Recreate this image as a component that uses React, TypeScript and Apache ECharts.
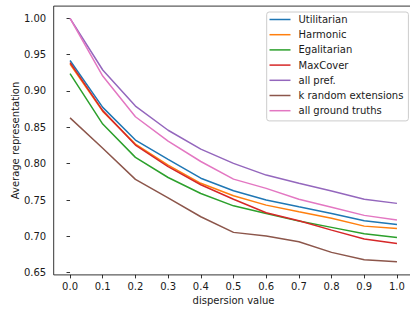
import React, { useEffect, useRef } from "react";
import * as echarts from "echarts";

const xValues = [0.0, 0.1, 0.2, 0.3, 0.4, 0.5, 0.6, 0.7, 0.8, 0.9, 1.0];
const xTicks = [0.0, 0.1, 0.2, 0.3, 0.4, 0.5, 0.6, 0.7, 0.8, 0.9, 1.0];
const yTicks = [0.65, 0.7, 0.75, 0.8, 0.85, 0.9, 0.95, 1.0];

const seriesNames = [
  "Utilitarian",
  "Harmonic",
  "Egalitarian",
  "MaxCover",
  "all pref.",
  "k random extensions",
  "all ground truths",
];
const seriesColors = ["#1f77b4", "#ff7f0e", "#2ca02c", "#d62728", "#9467bd", "#8c564b", "#e377c2"];

const utilitarian = [0.942, 0.8775, 0.8325, 0.806, 0.780, 0.7628, 0.750, 0.7407, 0.7316, 0.7214, 0.7165];
const harmonic = [0.937, 0.872, 0.827, 0.798, 0.773, 0.7559, 0.743, 0.7338, 0.7248, 0.7141, 0.711];
const egalitarian = [0.924, 0.8545, 0.8087, 0.781, 0.759, 0.742, 0.7316, 0.721, 0.7124, 0.7036, 0.6986];
const maxCover = [0.939, 0.873, 0.8256, 0.796, 0.771, 0.751, 0.7325, 0.7214, 0.7086, 0.6963, 0.6903];
const allPref = [1.0, 0.9289, 0.8793, 0.846, 0.820, 0.8004, 0.7843, 0.773, 0.7623, 0.751, 0.7454];
const kRandom = [0.863, 0.8212, 0.7784, 0.753, 0.727, 0.7055, 0.7004, 0.6925, 0.678, 0.6678, 0.665];
const allGround = [1.0, 0.9206, 0.8646, 0.831, 0.803, 0.7788, 0.766, 0.751, 0.740, 0.7289, 0.7224];

const allSeries = [utilitarian, harmonic, egalitarian, maxCover, allPref, kRandom, allGround];

const FONT = "DejaVu Sans";
const TEXT = "#1a1a1a";

export default function App() {
  const ref = useRef<HTMLDivElement>(null);
  useEffect(() => {
    if (!ref.current) return;
    const chart = echarts.init(ref.current, undefined, { renderer: "svg" });
    chart.setOption({
      animation: false,
      backgroundColor: "#ffffff",
      textStyle: { fontFamily: FONT },
      grid: {
        left: 53.7,
        right: -3.3,
        top: 6.1,
        bottom: 34.1,
        containLabel: false,
        outerBoundsMode: "none",
        show: true,
        borderColor: "#000",
        borderWidth: 0.8,
        backgroundColor: "transparent",
      },
      legend: {
        orient: "vertical",
        left: 266.7,
        top: 12,
        padding: [1.5, 5, 4.2, 2.8],
        itemWidth: 21,
        itemHeight: 1.5,
        itemGap: 3.2,
        icon: "rect",
        borderColor: "#cccccc",
        borderWidth: 1,
        borderRadius: 2.5,
        backgroundColor: "rgba(255,255,255,0.8)",
        textStyle: {
          fontFamily: FONT,
          fontSize: 10,
          color: TEXT,
          lineHeight: 12,
          padding: [0, 0, 0, 3],
        },
        data: seriesNames,
      },
      xAxis: {
        type: "value",
        min: -0.05,
        max: 1.05,
        name: "dispersion value",
        nameLocation: "middle",
        nameGap: 21,
        nameMoveOverlap: false,
        nameTextStyle: { fontFamily: FONT, fontSize: 10, color: TEXT },
        axisLine: { show: false },
        splitLine: { show: false },
        axisTick: {
          show: true,
          length: 3.5,
          lineStyle: { color: "#000", width: 0.8 },
          customValues: xTicks,
        },
        axisLabel: {
          fontFamily: FONT,
          fontSize: 10,
          color: TEXT,
          margin: 6.5,
          customValues: xTicks,
          formatter: (v: number) => v.toFixed(1),
        },
      },
      yAxis: {
        type: "value",
        min: 0.647,
        max: 1.0168,
        name: "Average representation",
        nameLocation: "middle",
        nameGap: 33,
        nameMoveOverlap: false,
        nameTextStyle: { fontFamily: FONT, fontSize: 10, color: TEXT },
        axisLine: { show: false },
        splitLine: { show: false },
        axisTick: {
          show: true,
          length: 3.5,
          lineStyle: { color: "#000", width: 0.8 },
          customValues: yTicks,
        },
        axisLabel: {
          fontFamily: FONT,
          fontSize: 10,
          color: TEXT,
          margin: 7.5,
          customValues: yTicks,
          formatter: (v: number) => v.toFixed(2),
        },
      },
      series: seriesNames.map((name, i) => ({
        name,
        type: "line",
        data: xValues.map((x, j) => [x, allSeries[i][j]]),
        showSymbol: false,
        symbol: "none",
        color: seriesColors[i],
        lineStyle: { color: seriesColors[i], width: 1.5 },
        itemStyle: { color: seriesColors[i] },
      })),
    });
    return () => chart.dispose();
  }, []);
  return (
    <div
      ref={ref}
      style={{ position: "fixed", left: 0, top: 0, width: 410, height: 309 }}
    />
  );
}
